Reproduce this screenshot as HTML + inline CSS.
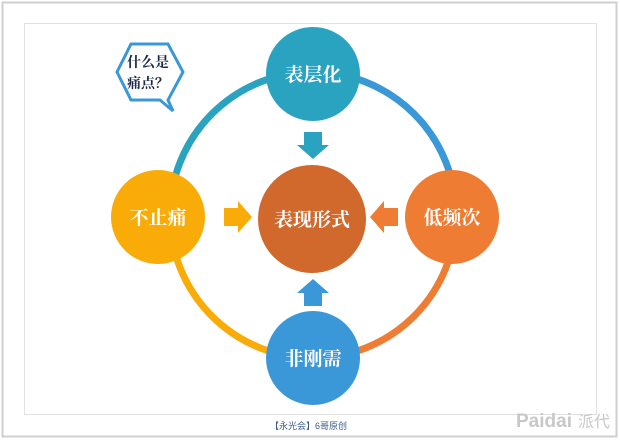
<!DOCTYPE html>
<html><head><meta charset="utf-8"><style>
html,body{margin:0;padding:0;background:#fff;}
body{width:620px;height:440px;position:relative;overflow:hidden;}
</style></head><body>
<svg width="620" height="440" viewBox="0 0 620 440" xmlns="http://www.w3.org/2000/svg" style="position:absolute;left:0;top:0">
<rect x="2.5" y="2.5" width="614" height="434" fill="#fff" stroke="#cfcfcf" stroke-width="2"/>
<rect x="24.5" y="23.5" width="572" height="391" fill="#fff" stroke="#e2e2e2" stroke-width="1"/>
<g fill="none" stroke-width="7">
<path d="M313 72 A143 143 0 0 0 170 215" stroke="#2aa3c0"/>
<path d="M313 72 A143 143 0 0 1 456 215" stroke="#3b98d8"/>
<path d="M456 215 A143 143 0 0 1 313 358" stroke="#ee7c33"/>
<path d="M313 358 A143 143 0 0 1 170 215" stroke="#f9ac08"/>
</g>
<polygon points="304,132 322,132 322,145 329,145 313,159 297,145 304,145" fill="#2aa3c0"/>
<polygon points="304,306 322,306 322,293 329,293 313,279 297,293 304,293" fill="#3b98d8"/>
<polygon points="224,208 238,208 238,201 252,217 238,233 238,226 224,226" fill="#f9ac08"/>
<polygon points="398,208 384,208 384,201 370,217 384,233 384,226 398,226" fill="#ee7c33"/>
<circle cx="312" cy="219" r="54" fill="#d1692c"/>
<circle cx="313" cy="74" r="47" fill="#2aa3c0"/>
<circle cx="452" cy="217" r="47" fill="#ee7c33"/>
<circle cx="313" cy="358" r="47" fill="#3b98d8"/>
<circle cx="158" cy="217" r="47" fill="#f9ac08"/>
<g font-family="'Noto Serif CJK SC','Liberation Serif',serif" font-size="19" font-weight="bold" fill="#fff" text-anchor="middle">
<text x="312" y="226">表现形式</text>
<text x="313" y="81">表层化</text>
<text x="452" y="224">低频次</text>
<text x="313" y="365">非刚需</text>
<text x="158" y="224">不止痛</text>
</g>
<path d="M131 44 L168 44 L183 72 L168 100 L173 111 L160 100 L131 100 L117 72 Z" fill="#fff" stroke="#3b98d8" stroke-width="3"/>
<g font-family="'Noto Serif CJK SC','Liberation Serif',serif" font-size="14" font-weight="bold" fill="#1d2a4a">
<text x="127" y="67">什么是</text>
<text x="127" y="88">痛点？</text>
</g>
<text x="270" y="429" font-family="'Liberation Sans','Noto Sans CJK SC',sans-serif" font-size="9" fill="#3a5a8a">【永光会】6哥原创</text>
<text x="516" y="427" font-family="'Liberation Sans',sans-serif" font-size="19" font-weight="bold" fill="#c8c8c8">Paidai</text>
<text x="578" y="427" font-family="'Noto Sans CJK SC',sans-serif" font-size="16" fill="#c8c8c8">派代</text>
</svg>
</body></html>
